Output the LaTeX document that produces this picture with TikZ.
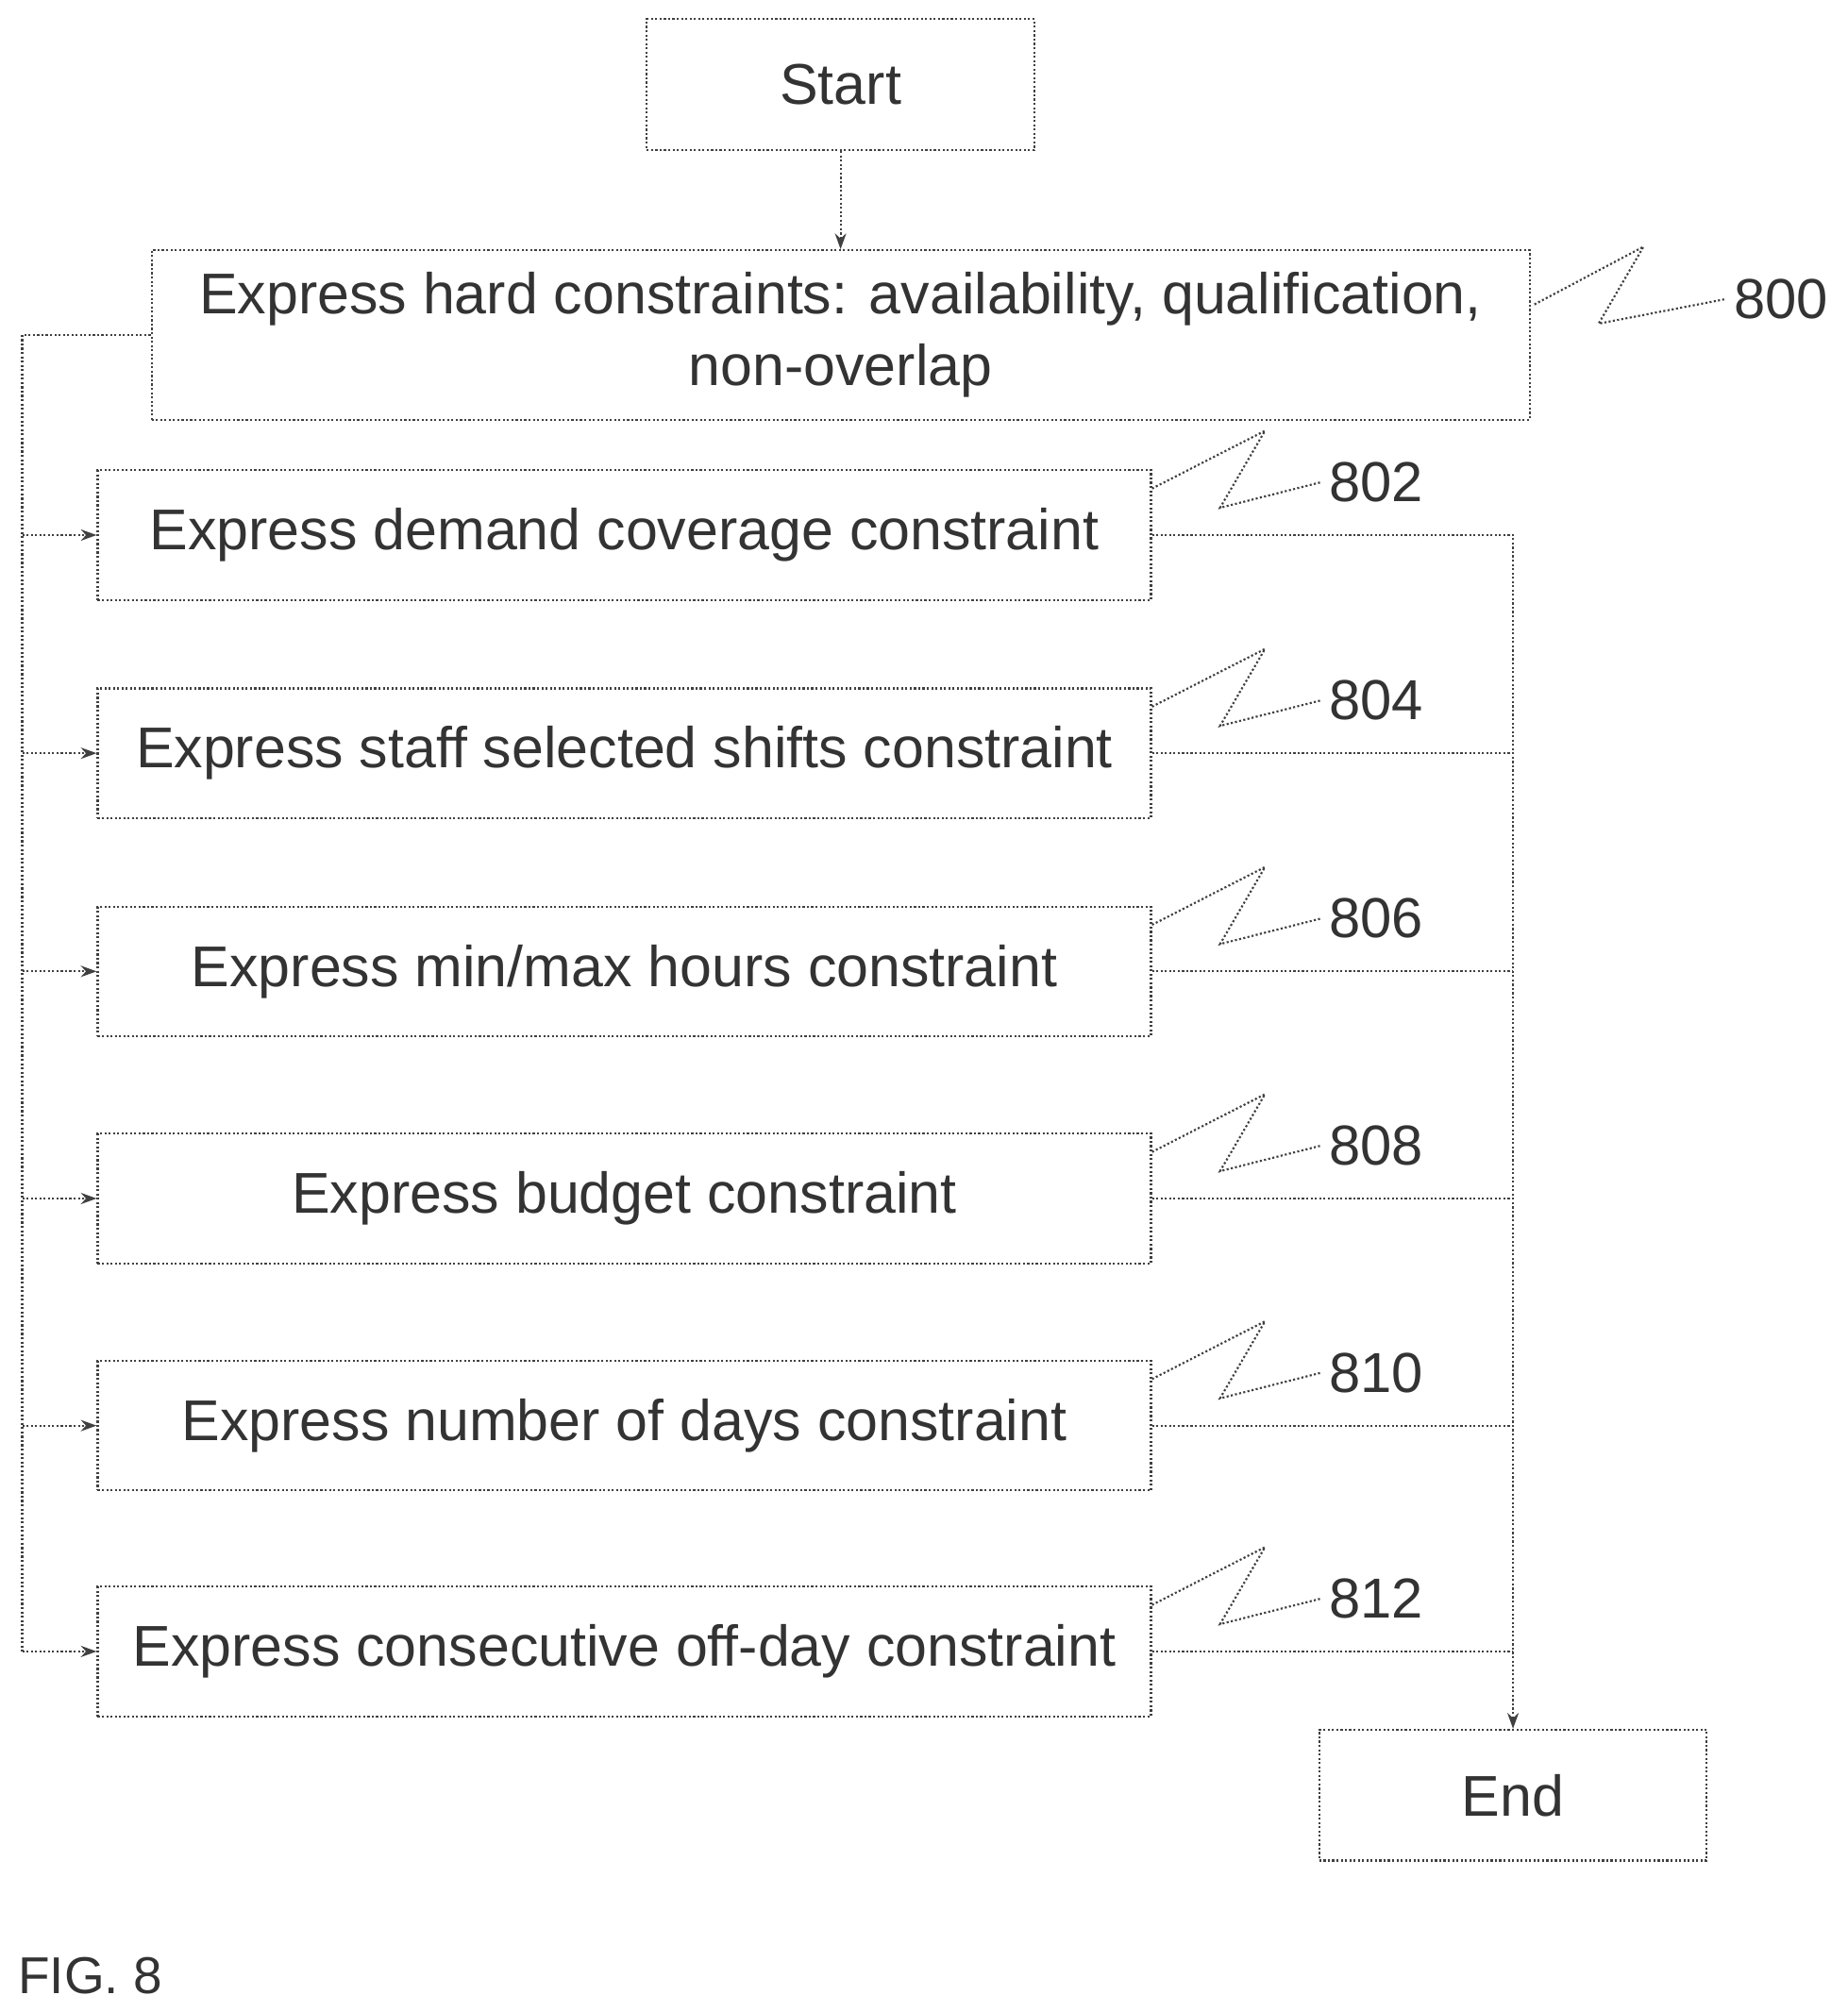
\documentclass[tikz,border=0pt]{standalone}
\usepackage{fontspec}
\setmainfont{Liberation Sans}
\usetikzlibrary{arrows.meta, positioning, calc}

\begin{document}
\begin{tikzpicture}[x=0.02cm, y=-0.02cm,
    box/.style={draw=black!75, densely dotted, line width=0.9pt, align=center,
        inner sep=0pt, font=\fontsize{25.5}{32}\selectfont, text=black!80},
    stepbox/.style={box, minimum width=16.42cm, minimum height=2.02cm},
    flow/.style={draw=black!75, densely dotted, line width=0.9pt},
    arr/.style={flow, -{Stealth[length=7pt, width=5pt]}},
    ref/.style={font=\fontsize{25}{28}\selectfont, text=black!80}]
\useasboundingbox (0,0) rectangle (1440,1568);

% Start
\node[box, minimum width=6.04cm, minimum height=2.04cm] (start) at (655,66) {Start};

% 800
\node[box, minimum width=21.48cm, minimum height=2.64cm] (b800) at (655,261) {
    \raisebox{-0.5ex}{Express hard constraints: availability, qualification,}\\
    \raisebox{-0.5ex}{non-overlap}
};

% 802 .. 812
\node[stepbox] (b802) at (486.5,417) {Express demand coverage constraint};
\node[stepbox] (b804) at (486.5,587) {Express staff selected shifts constraint};
\node[stepbox] (b806) at (486.5,757) {Express min/max hours constraint};
\node[stepbox] (b808) at (486.5,934) {Express budget constraint};
\node[stepbox] (b810) at (486.5,1111) {Express number of days constraint};
\node[stepbox] (b812) at (486.5,1287) {Express consecutive off-day constraint};

% End
\node[box, minimum width=6.04cm, minimum height=2.04cm] (end) at (1179,1399) {End};

% Arrows
\draw[arr] (start) -- (b800);
\draw[flow] (b800.west) -- ++(-100,0) coordinate (ltop);
\foreach \n in {802,804,806,808,810,812}
    \draw[arr] (ltop |- b\n.west) -- (b\n.west);
\draw[flow] (ltop) -- (ltop |- b812.west);

\coordinate (rtop) at (1179,417);
\draw[arr] (b802.east) -- (rtop) -- (end.north);
\foreach \n in {804,806,808,810,812}
    \draw[flow] (b\n.east) -- (b\n.east -| rtop);

% Reference numerals
\node[ref] (r800) at (1388,233) {800};
\draw[flow] (b800.north east) ++(3,43) -- ++(85,-45) -- ++(-35,60) -- (r800.west);
\foreach \n in {802,804,806,808,810,812} {
    \node[ref, anchor=west] (r\n) at ($(b\n.north east)+(132,10)$) {\n};
    \draw[flow] ($(b\n.north east)+(0,15)$) -- ++(88,-45) -- ++(-35,60) -- (r\n.west);
}

% Figure label
\node[ref, anchor=west, font=\fontsize{23}{26}\selectfont] (fig) at (8,1540) {FIG. 8};
\end{tikzpicture}
\end{document}
